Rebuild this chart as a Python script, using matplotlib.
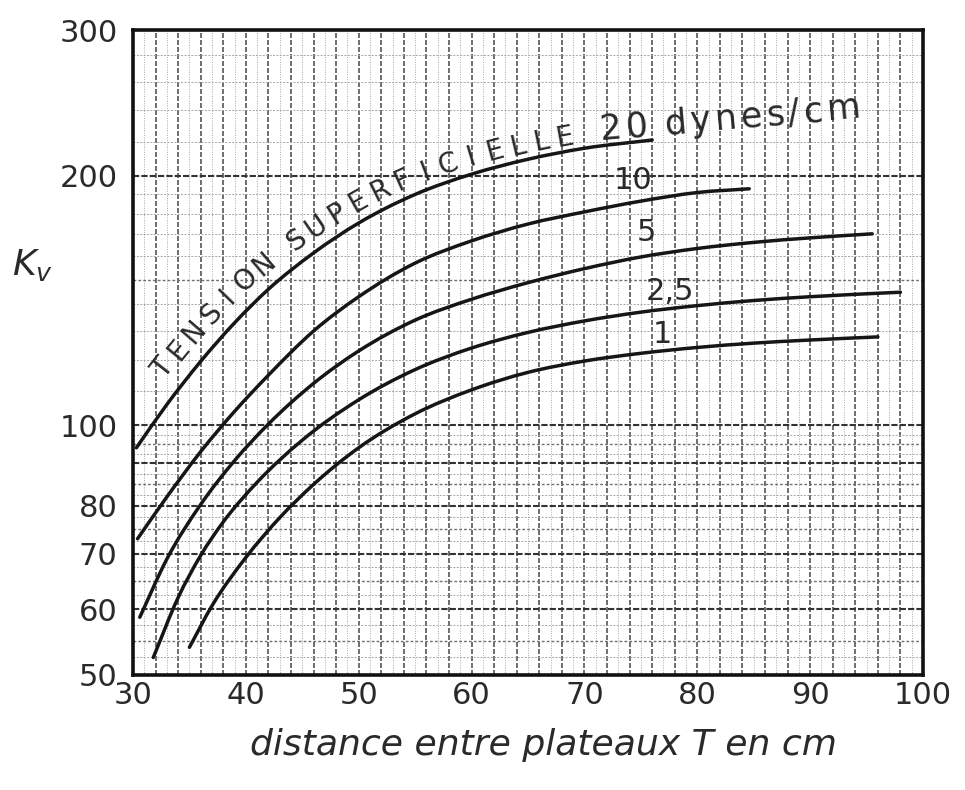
import numpy as np
import matplotlib
matplotlib.use("Agg")
import matplotlib.pyplot as plt
from matplotlib.ticker import NullLocator
from matplotlib.transforms import IdentityTransform
from matplotlib.path import Path
from matplotlib.patches import PathPatch

# ---- data: vapour factor K_v against plate spacing T, one curve per surface tension ----
tension_labels = ["20", "10", "5", "2,5", "1"]

t_20 = [30.3, 33, 36, 39, 42, 46, 50, 55, 60, 65, 70, 76]
kv_20 = [94, 106, 119.5, 133, 146, 161.5, 175.5, 190, 201, 209.5, 216, 221]

t_10 = [30.4, 33, 36, 39, 42, 46, 50, 55, 60, 65, 70, 75, 80, 84.6]
kv_10 = [73, 82, 93, 104, 115, 130, 143, 157, 167, 175, 181, 186.5, 191, 193]

t_5 = [30.6, 33, 36, 39, 42, 46, 50, 55, 60, 65, 70, 75, 80, 85, 90, 95.5]
kv_5 = [58.7, 69, 80.3, 90.7, 100.4, 112.4, 123, 134, 142, 148.7, 154.6, 159.7, 163.5, 166.3,
        168.4, 170.3]

t_25 = [31.8, 34, 36, 38, 41, 45, 50, 55, 60, 65, 70, 75, 80, 85, 90, 98]
kv_25 = [52.5, 62, 69.7, 76.5, 85.4, 96, 107.4, 116.8, 124, 129.5, 133.7, 137, 139.5, 141.5,
         143, 144.8]

t_1 = [35, 37, 40, 43, 46, 50, 55, 60, 65, 70, 75, 80, 85, 90, 96]
kv_1 = [54, 60.6, 69.3, 77.4, 84.9, 94, 103.3, 110.4, 115.9, 119.6, 122.2, 124.2, 125.7, 126.8,
        127.9]

x_ticks = [30, 40, 50, 60, 70, 80, 90, 100]
y_ticks = [50, 60, 70, 80, 100, 200, 300]

INK = "#161616"
TXT = "#2a2a2a"

fig = plt.figure(figsize=(9.65, 7.9), dpi=100)
fig.patch.set_facecolor("white")
ax = fig.add_axes([133 / 965, 1 - 675 / 790, (923 - 133) / 965, (675 - 30) / 790])
ax.set_yscale("log")
ax.set_xlim(30, 100)
ax.set_ylim(50, 300)

# ---- graph-paper grid ----
for xv in np.arange(31, 100, 1):
    if xv % 2 == 0:
        ax.axvline(xv, color="#555555", lw=1.2, ls=(0, (3, 1.2)), zorder=1)
    else:
        ax.axvline(xv, color="#a8a8a8", lw=0.7, ls=(0, (1, 1.5)), zorder=1)

major_h = [60, 70, 80, 90, 100, 200]
minor_h = [52.5, 55, 57.5, 62.5, 65, 67.5, 72.5, 75, 77.5, 82.5, 85, 87.5, 92.5, 95, 97.5,
           110, 120, 130, 140, 150, 160, 170, 180, 190, 220, 240, 260, 280]
for yv in major_h:
    ax.axhline(yv, color="#333333", lw=1.5, ls=(0, (3, 1)), zorder=1)
for yv in minor_h:
    strong = yv in (55, 65, 75, 85, 95, 150, 250)
    ax.axhline(yv, color="#707070" if strong else "#a5a5a5",
               lw=1.0 if strong else 0.7, ls=(0, (2, 1.5)), zorder=1)


def slopes(x, ly):
    """Tangent slopes of log K_v against T at each read point."""
    m = np.empty_like(ly)
    d = np.diff(ly) / np.diff(x)
    m[0], m[-1] = d[0], d[-1]
    h = np.diff(x)
    m[1:-1] = (d[:-1] * h[1:] + d[1:] * h[:-1]) / (h[:-1] + h[1:])
    return m


def smooth_path(xs, ys):
    """Cubic Bezier path through the points, smooth in (T, log K_v)."""
    x = np.asarray(xs, float)
    ly = np.log10(np.asarray(ys, float))
    m = slopes(x, ly)
    verts = [(x[0], 10 ** ly[0])]
    codes = [Path.MOVETO]
    for i in range(len(x) - 1):
        h = x[i + 1] - x[i]
        verts += [(x[i] + h / 3, 10 ** (ly[i] + m[i] * h / 3)),
                  (x[i + 1] - h / 3, 10 ** (ly[i + 1] - m[i + 1] * h / 3)),
                  (x[i + 1], 10 ** ly[i + 1])]
        codes += [Path.CURVE4] * 3
    return Path(verts, codes)


def dense_points(xs, ys, per_seg=20):
    """Points sampled along the same Hermite curve, for placing text."""
    x = np.asarray(xs, float)
    ly = np.log10(np.asarray(ys, float))
    m = slopes(x, ly)
    out_x, out_y = [], []
    for i in range(len(x) - 1):
        h = x[i + 1] - x[i]
        t = np.linspace(0, 1, per_seg, endpoint=False)
        h00 = 2 * t ** 3 - 3 * t ** 2 + 1
        h10 = t ** 3 - 2 * t ** 2 + t
        h01 = -2 * t ** 3 + 3 * t ** 2
        h11 = t ** 3 - t ** 2
        out_x.append(x[i] + h * t)
        out_y.append(h00 * ly[i] + h10 * h * m[i] + h01 * ly[i + 1] + h11 * h * m[i + 1])
    out_x.append([x[-1]])
    out_y.append([ly[-1]])
    return np.concatenate(out_x), 10 ** np.concatenate(out_y)


# ---- curves ----
curves = [(t_20, kv_20), (t_10, kv_10), (t_5, kv_5), (t_25, kv_25), (t_1, kv_1)]
for tx, kv in curves:
    ax.add_patch(PathPatch(smooth_path(tx, kv), fill=False, edgecolor=INK, lw=2.5,
                           capstyle="round", joinstyle="round", zorder=3,
                           transform=ax.transData))

# ---- axes frame and ticks ----
for sp in ax.spines.values():
    sp.set_linewidth(2.6)
    sp.set_color("#111111")
ax.set_xticks(x_ticks, labels=[str(v) for v in x_ticks])
ax.set_yticks(y_ticks, labels=[str(v) for v in y_ticks])
ax.yaxis.set_minor_locator(NullLocator())
ax.xaxis.set_minor_locator(NullLocator())
ax.tick_params(length=0, labelsize=22, labelcolor=TXT)
ax.tick_params(axis="x", pad=4)
ax.tick_params(axis="y", pad=11)

fig.canvas.draw()
renderer = fig.canvas.get_renderer()


def text_along_curve(xs, ys, text, start_x, advance, space, off0, off1, **kw):
    """Place characters one by one along a curve, offset on its upper side."""
    dx, dy = dense_points(xs, ys)
    pts = ax.transData.transform(np.column_stack([dx, dy]))
    seg = np.diff(pts, axis=0)
    s = np.concatenate([[0.0], np.cumsum(np.hypot(seg[:, 0], seg[:, 1]))])
    x0 = ax.transData.transform((start_x, ys[0]))[0]
    s_pos = np.interp(x0, pts[:, 0], s)
    widths = [space if c == " " else advance for c in text]
    n = len(text)
    for i, ch in enumerate(text):
        if i > 0:
            s_pos += 0.5 * (widths[i - 1] + widths[i])
        if ch == " ":
            continue
        px = np.interp(s_pos, s, pts[:, 0])
        py = np.interp(s_pos, s, pts[:, 1])
        pa = np.array([np.interp(s_pos - 10, s, pts[:, 0]), np.interp(s_pos - 10, s, pts[:, 1])])
        pb = np.array([np.interp(s_pos + 10, s, pts[:, 0]), np.interp(s_pos + 10, s, pts[:, 1])])
        d = pb - pa
        d /= np.hypot(*d)
        nrm = np.array([-d[1], d[0]])
        off = off0 + (off1 - off0) * i / (n - 1)
        ang = np.degrees(np.arctan2(d[1], d[0]))
        fig.text(px + nrm[0] * off, py + nrm[1] * off, ch, transform=IdentityTransform(),
                 rotation=ang, rotation_mode="anchor", ha="center", va="center", **kw)


def text_tracked(x, y, text, angle, tracking, space, **kw):
    """Write a string glyph by glyph on a tilted baseline with extra letter spacing."""
    p = ax.transData.transform((x, y))
    d = np.array([np.cos(np.radians(angle)), np.sin(np.radians(angle))])
    pos = 0.0
    for ch in text:
        if ch == " ":
            pos += space
            continue
        probe = fig.text(0, 0, ch, **kw)
        w = probe.get_window_extent(renderer).width
        probe.remove()
        q = p + d * (pos + w / 2)
        fig.text(q[0], q[1], ch, transform=IdentityTransform(), rotation=angle,
                 rotation_mode="anchor", ha="center", va="baseline", **kw)
        pos += w + tracking


text_along_curve(t_20, kv_20, "TENSION SUPERFICIELLE", 34.4, 23.5, 15, 25, 14,
                 fontsize=20, color=TXT, fontfamily="DejaVu Sans")
text_tracked(71.4, 221, "20 dynes/cm", 5, 4, 13, fontsize=25, color=TXT,
             fontfamily="DejaVu Sans")

# ---- curve labels ----
label_pos = [(74.3, 197.7), (75.5, 170.7), (77.6, 144.9), (76.9, 128.6)]
for lab, (lx, ly) in zip(tension_labels[1:], label_pos):
    ax.text(lx, ly, lab, fontsize=22, color=TXT, ha="center", va="center", zorder=4)

# ---- axis titles ----
fig.text(32 / 965, 1 - 265 / 790, r"$K_v$", fontsize=26, color=TXT, ha="center", va="center")
fig.text(543 / 965, 1 - 745 / 790, "distance entre plateaux T en cm", fontsize=26,
         style="italic", color=TXT, ha="center", va="center")

fig.savefig("out.png", dpi=100, facecolor="white")
